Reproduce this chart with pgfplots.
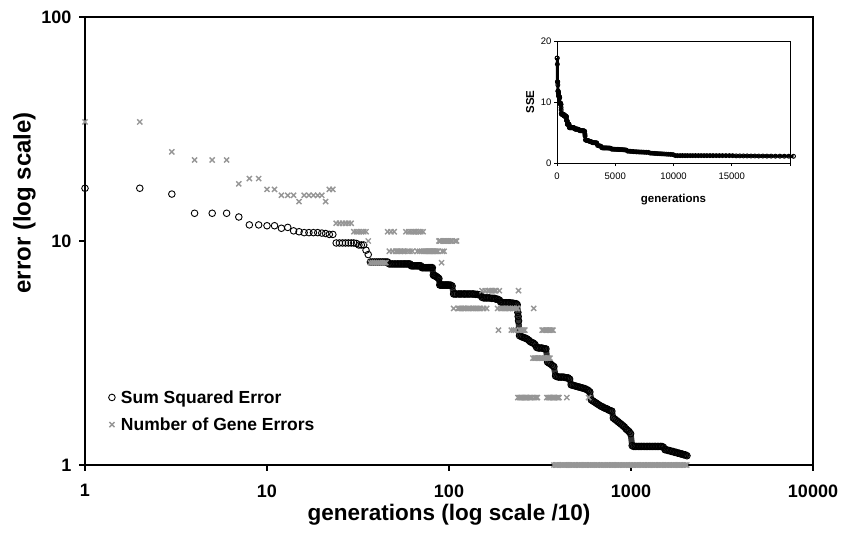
\documentclass[border=0pt]{standalone}
\usepackage{fontspec}
\setmainfont{Liberation Sans}
\usepackage{pgfplots}
\usepackage{pgfplotstable}
\pgfplotsset{compat=1.18}

\definecolor{generr}{RGB}{150,150,150}
\definecolor{dense}{RGB}{50,50,50}

% sum squared error, x = generations/10
\pgfplotstableread[row sep=\\]{
x y\\
1 17.2\\ 2 17.2\\ 3 16.2\\ 4 13.3\\ 5 13.3\\ 6 13.3\\ 7 12.8\\ 8 11.8\\ 9 11.8\\ 10 11.7\\
11 11.7\\ 12 11.4\\ 13 11.5\\ 14 11.1\\ 15 11.0\\ 16 10.9\\ 17 10.9\\ 18 10.9\\ 19 10.9\\ 20 10.85\\
21 10.8\\ 22 10.7\\ 23 10.7\\ 24 9.8\\ 25 9.8\\ 26 9.8\\ 27 9.8\\ 28 9.8\\ 29 9.8\\ 30 9.8\\
31 9.75\\ 32 9.6\\ 33 9.6\\ 34 9.6\\ 35 9.1\\ 36 8.7\\ 37 8.06\\ 38 8.06\\ 39 8.06\\ 40 8.06\\
41 8.06\\ 42 8.06\\ 43 8.06\\ 44 8.06\\ 45 8.06\\ 46 8.06\\ 47 7.9\\ 48 7.9\\ 49 7.9\\ 50 7.9\\
51 7.9\\ 52 7.9\\ 53 7.9\\ 54 7.9\\ 55 7.9\\ 56 7.9\\ 57 7.9\\ 58 7.9\\ 59 7.9\\ 60 7.9\\
61 7.9\\ 62 7.75\\ 63 7.75\\ 64 7.75\\ 65 7.75\\ 66 7.75\\ 67 7.75\\ 68 7.75\\ 69 7.75\\ 70 7.75\\
71 7.6\\ 72 7.6\\ 73 7.6\\ 74 7.6\\ 75 7.6\\ 76 7.6\\ 77 7.6\\ 78 7.6\\ 79 7.6\\ 80 7.6\\
81 7.6\\ 82 7.05\\ 83 7.0\\ 84 7.0\\ 85 6.95\\ 86 6.9\\ 87 6.85\\ 88 6.8\\ 89 6.36\\ 90 6.36\\
91 6.36\\ 92 6.36\\ 93 6.36\\ 94 6.36\\ 95 6.36\\ 96 6.36\\ 97 6.36\\ 98 6.36\\ 99 6.36\\ 100 6.36\\
102 6.36\\ 104 6.3\\ 106 5.8\\ 108 5.8\\ 110 5.8\\ 113 5.8\\ 115 5.8\\ 117 5.8\\ 120 5.8\\ 122 5.8\\
124 5.8\\ 127 5.8\\ 129 5.8\\ 132 5.8\\ 135 5.8\\ 137 5.8\\ 140 5.78\\ 143 5.78\\ 146 5.75\\ 149 5.75\\
152 5.6\\ 155 5.57\\ 158 5.57\\ 161 5.57\\ 164 5.57\\ 167 5.57\\ 171 5.55\\ 174 5.55\\ 178 5.55\\ 181 5.5\\
185 5.5\\ 189 5.45\\ 192 5.35\\ 196 5.32\\ 200 5.3\\ 204 5.3\\ 208 5.3\\ 212 5.3\\ 216 5.3\\ 221 5.28\\
225 5.28\\ 230 5.25\\ 234 5.25\\ 237 5.2\\ 239 4.8\\ 240 4.6\\ 241 4.4\\ 244 3.78\\ 249 3.75\\ 254 3.72\\
259 3.7\\ 264 3.68\\ 269 3.65\\ 275 3.6\\ 280 3.55\\ 286 3.52\\ 291 3.5\\ 297 3.45\\ 303 3.35\\ 309 3.33\\
315 3.33\\ 322 3.33\\ 328 3.32\\ 335 3.3\\ 341 3.3\\ 348 2.88\\ 355 2.85\\ 362 2.82\\ 370 2.78\\ 377 2.75\\
385 2.5\\ 392 2.48\\ 400 2.47\\ 408 2.47\\ 416 2.47\\ 425 2.47\\ 433 2.46\\ 442 2.45\\ 451 2.45\\ 460 2.42\\
469 2.28\\ 478 2.27\\ 488 2.26\\ 497 2.25\\ 507 2.24\\ 518 2.23\\ 528 2.22\\ 538 2.21\\ 549 2.2\\ 560 2.19\\
572 2.17\\ 583 2.15\\ 594 2.12\\ 606 1.95\\ 619 1.93\\ 631 1.91\\ 644 1.89\\ 656 1.87\\ 670 1.85\\ 683 1.83\\
697 1.82\\ 711 1.8\\ 725 1.79\\ 739 1.78\\ 754 1.76\\ 769 1.75\\ 785 1.74\\ 800 1.62\\ 816 1.6\\ 833 1.58\\
849 1.56\\ 866 1.54\\ 884 1.52\\ 901 1.5\\ 919 1.48\\ 938 1.45\\ 956 1.43\\ 976 1.41\\ 995 1.38\\ 1015 1.22\\
1035 1.21\\ 1056 1.21\\ 1077 1.21\\ 1099 1.21\\ 1121 1.21\\ 1143 1.21\\ 1166 1.21\\ 1189 1.21\\ 1213 1.21\\ 1237 1.21\\
1262 1.21\\ 1287 1.21\\ 1313 1.21\\ 1339 1.21\\ 1366 1.21\\ 1393 1.21\\ 1421 1.21\\ 1450 1.21\\ 1479 1.21\\ 1508 1.2\\
1538 1.17\\ 1569 1.17\\ 1600 1.16\\ 1632 1.16\\ 1665 1.15\\ 1698 1.15\\ 1732 1.14\\ 1767 1.14\\ 1802 1.13\\ 1838 1.13\\
1875 1.12\\ 1913 1.12\\ 1951 1.11\\ 1990 1.11\\ 2030 1.1\\
}\sse

% number of gene errors
\pgfplotstableread[row sep=\\]{
x y\\
1 34\\ 2 34\\ 3 25\\ 4 23\\ 5 23\\ 6 23\\ 7 18\\ 8 19\\ 9 19\\ 10 17\\
11 17\\ 12 16\\ 13 16\\ 14 16\\ 15 15\\ 16 16\\ 17 16\\ 18 16\\ 19 16\\ 20 16\\
21 15\\ 22 17\\ 23 17\\ 24 12\\ 25 12\\ 26 12\\ 27 12\\ 28 12\\ 29 12\\ 30 11\\
31 11\\ 32 11\\ 33 11\\ 34 11\\ 35 11\\ 36 10\\ 37 8\\ 38 8\\ 39 8\\ 40 8\\
41 8\\ 42 8\\ 43 8\\ 44 8\\ 45 8\\ 46 11\\ 47 9\\ 48 11\\ 49 9\\ 50 11\\
51 9\\ 52 9\\ 53 9\\ 54 9\\ 55 9\\ 56 9\\ 57 9\\ 58 11\\ 59 9\\ 60 11\\
61 9\\ 62 11\\ 63 9\\ 64 11\\ 65 11\\ 66 11\\ 67 9\\ 68 11\\ 69 9\\ 70 11\\
71 9\\ 72 11\\ 73 9\\ 74 9\\ 75 9\\ 76 9\\ 77 9\\ 78 9\\ 79 9\\ 80 9\\
81 9\\ 82 9\\ 83 9\\ 84 9\\ 85 9\\ 86 9\\ 87 9\\ 88 10\\ 89 10\\ 90 10\\
91 8\\ 92 9\\ 93 10\\ 94 9\\ 95 10\\ 96 10\\ 97 10\\ 98 10\\ 99 10\\ 100 10\\
102 10\\ 104 10\\ 106 5\\ 108 10\\ 110 10\\ 112 5\\ 113 5\\ 115 5\\ 117 5\\ 120 5\\
122 5\\ 124 5\\ 127 5\\ 129 5\\ 132 5\\ 135 5\\ 137 5\\ 140 5\\ 143 5\\ 146 5\\
149 5\\ 152 6\\ 155 5\\ 158 6\\ 161 5\\ 164 6\\ 167 6\\ 171 6\\ 174 6\\ 178 6\\
181 6\\ 185 5\\ 187 4\\ 189 6\\ 192 5\\ 196 5\\ 200 5\\ 204 5\\ 208 5\\ 212 5\\
216 5\\ 220 4\\ 223 5\\ 226 4\\ 229 5\\ 232 4\\ 235 5\\ 238 5\\ 239 2\\ 241 6\\
243 2\\ 245 4\\ 247 2\\ 249 4\\ 251 2\\ 253 4\\ 255 2\\ 257 4\\ 259 2\\ 261 4\\
263 2\\ 267 2\\ 271 2\\ 276 2\\ 281 2\\ 286 2\\ 289 3\\ 292 5\\ 294 3\\ 296 2\\
299 3\\ 301 2\\ 305 3\\ 306 2\\ 311 3\\ 317 3\\ 323 3\\ 325 4\\ 329 3\\ 332 4\\
335 3\\ 338 4\\ 341 3\\ 344 4\\ 345 2\\ 347 3\\ 350 4\\ 351 2\\ 353 3\\ 356 4\\
357 2\\ 359 3\\ 362 4\\ 363 2\\ 368 4\\ 369 2\\ 373 4\\ 375 2\\ 377 1\\ 381 2\\
385 1\\ 387 2\\ 390 1\\ 393 2\\ 398 1\\ 399 2\\ 402 2\\ 406 1\\ 414 1\\ 422 1\\
431 1\\ 440 1\\ 444 2\\ 449 1\\ 458 1\\ 467 1\\ 476 1\\ 486 1\\ 495 1\\ 505 1\\
515 1\\ 526 1\\ 536 1\\ 547 1\\ 558 1\\ 569 1\\ 581 1\\ 585 2\\ 592 1\\ 604 1\\
616 1\\ 629 1\\ 641 1\\ 654 1\\ 667 1\\ 681 1\\ 694 1\\ 708 1\\ 722 1\\ 737 1\\
751 1\\ 766 1\\ 782 1\\ 797 1\\ 813 1\\ 830 1\\ 846 1\\ 863 1\\ 880 1\\ 898 1\\
916 1\\ 934 1\\ 953 1\\ 972 1\\ 992 1\\ 1012 1\\ 1032 1\\ 1052 1\\ 1074 1\\ 1095 1\\
1117 1\\ 1139 1\\ 1162 1\\ 1185 1\\ 1209 1\\ 1233 1\\ 1258 1\\ 1283 1\\ 1309 1\\ 1335 1\\
1362 1\\ 1389 1\\ 1417 1\\ 1445 1\\ 1474 1\\ 1503 1\\ 1533 1\\ 1564 1\\ 1595 1\\ 1627 1\\
1660 1\\ 1693 1\\ 1727 1\\ 1761 1\\ 1797 1\\ 1833 1\\ 1869 1\\ 1907 1\\ 1945 1\\ 1984 1\\
2024 1\\
}\genes

\begin{document}
\begin{tikzpicture}
\begin{axis}[
    name=main,
    xmode=log, ymode=log,
    scale only axis, width=728pt, height=448pt,
    xmin=1, xmax=10000, ymin=1, ymax=100,
    xtick={1,10,100,1000,10000}, xticklabels={1,10,100,1000,10000},
    ytick={1,10,100}, yticklabels={1,10,100},
    xminorticks=false, yminorticks=false,
    tick pos=left, tick align=outside, major tick length=6pt,
    axis line style={line width=1.8pt},
    tick style={line width=1.8pt, black},
    tick label style={font=\fontsize{18}{20}\selectfont\bfseries},
    xticklabel style={yshift=-10pt},
    yticklabel style={xshift=-4pt},
    xlabel={generations (log scale /10)},
    ylabel={error (log scale)},
    label style={font=\fontsize{22.5}{24}\selectfont\bfseries},
    xlabel style={at={(axis description cs:0.5,-0.111)}, anchor=center},
    ylabel style={at={(axis description cs:-0.083,0.585)}, anchor=center,
        font=\fontsize{24}{26}\selectfont\bfseries},
    clip=false,
    legend style={at={(axis description cs:0.023,0.176)}, anchor=north west,
        draw=none, fill=none, row sep=9pt,
        font=\fontsize{17.5}{20}\selectfont\bfseries},
    legend cell align=left,
    legend image code/.code={\path[draw=none, fill=none] (0pt,-3pt) rectangle (14pt,3pt);
        \draw[mark repeat=2, mark phase=2, #1]
        plot coordinates {(0pt,0pt) (7pt,0pt) (14pt,0pt)};},
]
% where the points crowd together they merge into a dark band
\addplot[dense, line width=6pt, line join=round, line cap=round,
    skip coords between index={0}{36}, forget plot] table {\sse};
\addplot[only marks, mark=o, mark size=3.3pt, draw=black,
    mark options={line width=0.9pt}] table {\sse};
\addlegendentry{Sum Squared Error}
\addplot[only marks, mark=x, mark size=3.6pt, draw=generr,
    mark options={line width=1.4pt}] table {\genes};
\addlegendentry{Number of Gene Errors}
\end{axis}

% inset: SSE on linear axes (main axis sits with its south west corner at the origin)
\begin{axis}[
    at={(472pt,302pt)}, anchor=south west,
    scale only axis, width=233pt, height=122pt,
    xmin=0, xmax=20000, ymin=0, ymax=20,
    xtick={0,5000,10000,15000,20000}, xticklabels={0,5000,10000,15000,},
    ytick={0,10,20},
    scaled ticks=false,
    tick pos=left, tick align=outside, major tick length=3pt,
    axis line style={line width=0.6pt},
    tick style={line width=0.6pt, black},
    /pgf/number format/assume math mode=true,
    tick label style={font=\fontsize{9.5}{11}\selectfont},
    xticklabel style={yshift=-3pt},
    yticklabel style={xshift=1pt},
    xlabel={generations}, ylabel={SSE},
    label style={font=\fontsize{11.5}{13}\selectfont\bfseries},
    xlabel style={at={(axis description cs:0.5,-0.30)}, anchor=center},
    ylabel style={at={(axis description cs:-0.115,0.5)}, anchor=center},
    clip=false,
]
\addplot[black, line width=3pt, line join=round] table[x expr=\thisrow{x}*10, y=y] {\sse};
\addplot[only marks, mark=o, mark size=2pt, draw=black,
    mark options={line width=0.9pt}] table[x expr=\thisrow{x}*10, y=y] {\sse};
\end{axis}

\pgfresetboundingbox
\path (-85pt,-77pt) rectangle (758pt,465pt);
\end{tikzpicture}
\end{document}
